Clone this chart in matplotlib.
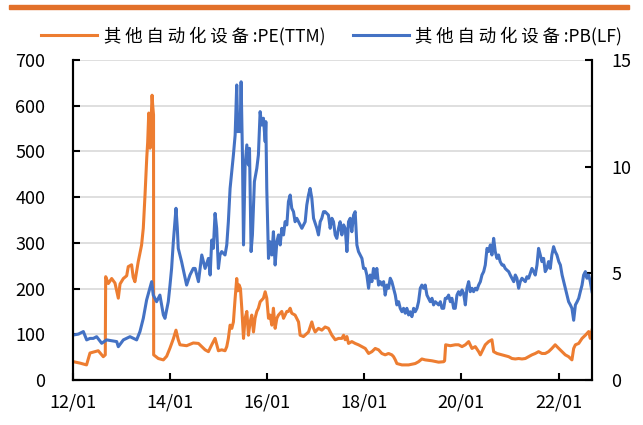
import pandas as pd
import matplotlib
matplotlib.use('Agg')
import matplotlib.pyplot as plt
import matplotlib.dates as mdates

plt.rcParams['font.family'] = ['Noto Sans CJK SC', 'DejaVu Sans']
plt.rcParams['axes.unicode_minus'] = False

# 数据
pe_label = '其他自动化设备:PE(TTM)'
pb_label = '其他自动化设备:PB(LF)'

pe_dates = [
    '2012-01-04', '2012-02-22', '2012-04-12', '2012-05-08', '2012-06-14', '2012-07-09', '2012-08-16',
    '2012-08-31', '2012-09-03', '2012-09-23', '2012-10-18', '2012-11-12', '2012-12-07', '2012-12-20',
    '2013-01-14', '2013-02-08', '2013-02-20', '2013-03-17', '2013-03-29', '2013-04-11', '2013-05-06',
    '2013-05-31', '2013-06-13', '2013-06-26', '2013-07-09', '2013-07-16', '2013-07-24', '2013-08-03',
    '2013-08-10', '2013-08-18', '2013-08-23', '2013-08-29', '2013-08-30', '2013-10-04', '2013-11-11',
    '2013-12-06', '2013-12-31', '2014-01-25', '2014-02-14', '2014-03-03', '2014-03-16', '2014-05-05',
    '2014-06-24', '2014-08-02', '2014-08-27', '2014-09-21', '2014-10-16', '2014-11-10', '2014-12-05',
    '2014-12-30', '2015-01-24', '2015-02-18', '2015-03-03', '2015-03-15', '2015-03-28', '2015-04-10',
    '2015-04-22', '2015-05-05', '2015-05-17', '2015-05-25', '2015-06-04', '2015-06-14', '2015-06-24',
    '2015-07-07', '2015-07-19', '2015-08-01', '2015-08-13', '2015-08-26', '2015-09-07', '2015-09-20',
    '2015-10-02', '2015-10-15', '2015-10-27', '2015-11-09', '2015-12-04', '2015-12-17', '2015-12-29',
    '2016-01-11', '2016-01-23', '2016-02-05', '2016-02-17', '2016-03-01', '2016-03-14', '2016-03-26',
    '2016-04-20', '2016-05-03', '2016-05-15', '2016-05-28', '2016-06-09', '2016-06-22', '2016-07-04',
    '2016-07-29', '2016-08-24', '2016-09-05', '2016-09-30', '2016-11-07', '2016-12-02', '2016-12-15',
    '2016-12-27', '2017-01-21', '2017-02-15', '2017-03-12', '2017-04-06', '2017-05-02', '2017-05-27',
    '2017-06-21', '2017-07-16', '2017-07-29', '2017-08-10', '2017-08-23', '2017-09-04', '2017-09-29',
    '2017-10-24', '2017-11-18', '2017-12-14', '2018-01-08', '2018-02-02', '2018-02-27', '2018-03-24',
    '2018-04-18', '2018-05-13', '2018-06-07', '2018-07-02', '2018-07-27', '2018-08-09', '2018-08-22',
    '2018-09-03', '2018-10-11', '2018-11-30', '2019-01-19', '2019-02-13', '2019-03-10', '2019-04-04',
    '2019-05-25', '2019-07-14', '2019-08-21', '2019-08-28', '2019-09-05', '2019-10-10', '2019-11-16',
    '2019-12-11', '2020-01-06', '2020-01-31', '2020-02-25', '2020-03-21', '2020-04-15', '2020-05-10',
    '2020-05-23', '2020-06-04', '2020-06-29', '2020-07-24', '2020-08-18', '2020-08-31', '2020-09-25',
    '2020-11-02', '2020-12-22', '2021-01-16', '2021-02-10', '2021-03-07', '2021-04-01', '2021-04-26',
    '2021-05-21', '2021-06-15', '2021-07-10', '2021-08-04', '2021-08-29', '2021-09-23', '2021-10-18',
    '2021-11-12', '2021-12-07', '2022-01-03', '2022-01-28', '2022-02-21', '2022-03-18', '2022-04-12',
    '2022-04-25', '2022-05-08', '2022-06-02', '2022-06-27', '2022-07-22', '2022-08-16', '2022-08-28',
    '2022-09-10']
pe_values = [
    40, 37, 33, 59, 62, 64, 51,
    55, 226, 211, 222, 212, 179, 210,
    222, 228, 248, 252, 225, 215, 259,
    295, 332, 405, 486, 520, 584, 507,
    560, 623, 600, 580, 55, 47, 44,
    52, 70, 90, 109, 88, 77, 75,
    81, 80, 73, 66, 62, 77, 91,
    64, 66, 64, 73, 91, 120, 113,
    127, 179, 222, 195, 208, 200, 157,
    91, 135, 150, 98, 127, 142, 105,
    135, 150, 157, 171, 179, 193, 179,
    135, 142, 120, 157, 113, 135, 142,
    150, 135, 142, 150, 150, 157, 146,
    142, 127, 98, 95, 105, 127, 113,
    105, 113, 109, 116, 113, 98, 88,
    91, 91, 98, 88, 95, 80, 84,
    80, 77, 73, 69, 58, 62, 69,
    66, 58, 55, 58, 55, 51, 44,
    36, 33, 33, 36, 40, 46, 44,
    42, 39, 40, 42, 77, 75, 77,
    77, 73, 77, 84, 69, 73, 62,
    55, 62, 77, 84, 88, 62, 58,
    55, 51, 47, 46, 47, 46, 47,
    51, 55, 58, 62, 58, 58, 62,
    69, 77, 69, 62, 55, 51, 44,
    69, 77, 80, 91, 98, 106, 91,
    109]

pb_dates = [
    '2012-01-04', '2012-02-10', '2012-03-19', '2012-04-13', '2012-05-08', '2012-06-02', '2012-06-27',
    '2012-08-04', '2012-09-10', '2012-10-18', '2012-11-25', '2012-12-07', '2013-01-14', '2013-03-05',
    '2013-04-24', '2013-05-19', '2013-06-13', '2013-07-08', '2013-08-02', '2013-08-15', '2013-08-27',
    '2013-09-21', '2013-10-16', '2013-11-11', '2013-11-23', '2013-12-18', '2013-12-31', '2014-01-12',
    '2014-01-25', '2014-02-14', '2014-02-24', '2014-03-03', '2014-03-28', '2014-05-05', '2014-05-30',
    '2014-06-24', '2014-07-08', '2014-08-02', '2014-08-27', '2014-09-21', '2014-10-16', '2014-10-29',
    '2014-11-10', '2014-11-22', '2014-12-05', '2014-12-17', '2014-12-30', '2015-01-11', '2015-01-24',
    '2015-02-18', '2015-03-03', '2015-03-15', '2015-03-28', '2015-04-10', '2015-04-22', '2015-05-05',
    '2015-05-17', '2015-05-25', '2015-06-04', '2015-06-11', '2015-06-19', '2015-06-29', '2015-07-07',
    '2015-07-19', '2015-08-01', '2015-08-13', '2015-08-21', '2015-09-02', '2015-09-12', '2015-09-27',
    '2015-10-15', '2015-10-27', '2015-11-09', '2015-11-21', '2015-12-04', '2015-12-17', '2015-12-22',
    '2015-12-29', '2016-01-11', '2016-01-23', '2016-02-05', '2016-02-17', '2016-03-01', '2016-03-14',
    '2016-03-26', '2016-04-08', '2016-04-20', '2016-05-03', '2016-05-15', '2016-05-28', '2016-06-09',
    '2016-06-22', '2016-07-04', '2016-07-17', '2016-07-29', '2016-08-11', '2016-09-05', '2016-09-18',
    '2016-10-13', '2016-10-25', '2016-11-07', '2016-11-19', '2016-12-02', '2016-12-15', '2017-01-09',
    '2017-01-21', '2017-02-03', '2017-02-15', '2017-02-28', '2017-03-12', '2017-04-06', '2017-04-19',
    '2017-05-02', '2017-05-14', '2017-05-27', '2017-06-08', '2017-06-21', '2017-07-03', '2017-07-16',
    '2017-07-29', '2017-08-10', '2017-08-23', '2017-09-04', '2017-09-17', '2017-09-29', '2017-10-12',
    '2017-10-24', '2017-11-06', '2017-11-18', '2017-12-01', '2017-12-14', '2017-12-26', '2018-01-08',
    '2018-01-20', '2018-02-02', '2018-02-14', '2018-02-27', '2018-03-11', '2018-03-24', '2018-04-05',
    '2018-04-18', '2018-05-01', '2018-05-13', '2018-05-26', '2018-06-07', '2018-06-20', '2018-07-02',
    '2018-07-15', '2018-07-27', '2018-08-09', '2018-08-22', '2018-09-03', '2018-09-16', '2018-09-28',
    '2018-10-11', '2018-10-23', '2018-11-05', '2018-11-17', '2018-11-30', '2018-12-12', '2018-12-25',
    '2019-01-07', '2019-01-19', '2019-02-01', '2019-02-13', '2019-02-26', '2019-03-10', '2019-03-23',
    '2019-04-04', '2019-04-17', '2019-04-29', '2019-05-12', '2019-05-25', '2019-06-06', '2019-06-19',
    '2019-07-14', '2019-07-27', '2019-08-08', '2019-08-21', '2019-09-02', '2019-09-15', '2019-09-27',
    '2019-10-10', '2019-10-22', '2019-11-04', '2019-11-16', '2019-11-29', '2019-12-11', '2019-12-24',
    '2020-01-06', '2020-01-18', '2020-01-31', '2020-02-12', '2020-02-25', '2020-03-08', '2020-03-21',
    '2020-04-02', '2020-04-15', '2020-04-27', '2020-05-10', '2020-05-23', '2020-06-04', '2020-06-17',
    '2020-06-29', '2020-07-12', '2020-07-24', '2020-08-06', '2020-08-18', '2020-08-31', '2020-09-12',
    '2020-09-25', '2020-10-07', '2020-10-19', '2020-11-02', '2020-11-14', '2020-11-26', '2020-12-09',
    '2020-12-22', '2021-01-03', '2021-01-16', '2021-01-29', '2021-02-10', '2021-02-22', '2021-03-07',
    '2021-03-19', '2021-04-01', '2021-04-26', '2021-05-08', '2021-05-21', '2021-06-15', '2021-06-28',
    '2021-07-10', '2021-07-23', '2021-08-04', '2021-08-17', '2021-08-29', '2021-09-11', '2021-09-23',
    '2021-10-06', '2021-10-18', '2021-10-31', '2021-11-12', '2021-11-25', '2021-12-07', '2021-12-20',
    '2022-01-03', '2022-01-15', '2022-01-28', '2022-02-09', '2022-02-21', '2022-03-06', '2022-03-18',
    '2022-03-31', '2022-04-12', '2022-04-25', '2022-05-08', '2022-05-21', '2022-06-02', '2022-06-14',
    '2022-06-27', '2022-07-09', '2022-07-22', '2022-08-03', '2022-08-16', '2022-08-28', '2022-09-10']
pb_values = [
    2.11, 2.15, 2.27, 1.88, 1.95, 1.95, 2.03,
    1.72, 1.88, 1.84, 1.80, 1.56, 1.88, 2.03,
    1.88, 2.27, 2.89, 3.75, 4.31, 4.61, 3.98,
    3.67, 3.98, 3.05, 2.89, 3.67, 4.45, 5.23,
    6.48, 8.05, 7.11, 6.17, 5.55, 4.45, 4.92,
    5.23, 5.23, 4.61, 5.86, 5.23, 5.70, 4.92,
    6.56, 6.17, 7.81, 7.11, 5.23, 5.86, 6.02,
    5.86, 6.33, 7.42, 8.98, 9.77, 10.55, 11.48,
    13.83, 11.64, 12.42, 11.64, 13.98, 10.55, 6.33,
    10.08, 11.02, 10.08, 10.86, 6.02, 6.80, 9.30,
    9.92, 10.55, 12.58, 11.95, 12.27, 11.17, 12.11,
    8.98, 5.70, 6.48, 5.86, 6.95, 5.39, 6.48,
    6.80, 6.33, 7.11, 6.80, 7.42, 7.27, 8.36,
    8.67, 8.05, 7.89, 7.42, 7.58, 7.27, 7.11,
    7.42, 8.20, 8.67, 8.98, 8.52, 7.58, 7.11,
    6.80, 7.42, 7.58, 7.89, 7.89, 7.73, 7.11,
    7.58, 7.42, 6.80, 6.64, 7.11, 7.42, 6.80,
    7.27, 7.11, 6.02, 7.42, 7.58, 6.95, 7.73,
    7.89, 6.33, 6.02, 5.86, 5.70, 5.23, 5.23,
    4.92, 4.30, 4.92, 4.61, 5.23, 4.77, 5.23,
    4.45, 4.61, 4.45, 4.61, 3.98, 4.45, 4.30,
    4.77, 4.61, 4.30, 3.98, 3.52, 3.67, 3.36,
    3.20, 3.36, 3.13, 3.36, 3.05, 3.20, 2.97,
    3.36, 3.20, 3.36, 3.67, 4.30, 4.45, 4.30,
    4.45, 3.98, 3.83, 3.67, 3.83, 3.52, 3.67,
    3.52, 3.67, 3.36, 3.36, 3.83, 3.83, 3.98,
    3.67, 3.83, 3.36, 3.36, 3.98, 4.14, 3.98,
    4.22, 4.06, 3.52, 4.30, 4.61, 4.14, 4.30,
    4.14, 4.30, 4.22, 4.45, 4.61, 4.92, 5.08,
    5.39, 6.17, 6.02, 6.33, 5.86, 6.64, 6.02,
    5.70, 5.86, 5.55, 5.39, 5.39, 5.23, 5.15,
    5.08, 4.92, 4.77, 4.61, 4.92, 4.77, 4.30,
    4.61, 4.77, 4.61, 4.84, 4.77, 5.23, 5.08,
    4.92, 5.39, 6.17, 5.86, 5.55, 5.70, 5.08,
    5.23, 5.55, 5.23, 5.86, 6.25, 6.02, 5.86,
    5.55, 5.39, 4.92, 4.61, 4.30, 3.98, 3.67,
    3.52, 3.36, 2.80, 3.52, 3.67, 3.83, 4.14,
    4.45, 4.92, 5.08, 4.77, 4.92, 4.61, 4.14]

pe_x = pd.to_datetime(pe_dates)
pb_x = pd.to_datetime(pb_dates)


def spaced(label):
    # 中文字之间留点空隙, 英文部分不动
    head, tail = label.split(':')
    return ' '.join(head) + ' :' + tail


fig = plt.figure(figsize=(6.43, 4.25), dpi=100)
ax = fig.add_axes([0.1135, 0.1059, 0.8072, 0.7529])
ax2 = ax.twinx()

ax.plot(pe_x, pe_values, color='#ED7D31', lw=2.2, label=pe_label)
ax2.plot(pb_x, pb_values, color='#4472C4', lw=2.2, label=pb_label)

ax.set_ylim(0, 700)
ax.set_yticks(range(0, 701, 100))
ax2.set_ylim(0, 15)
ax2.set_yticks([0, 5, 10, 15])
ax.set_xlim(pd.Timestamp('2012-01-01'), pd.Timestamp('2022-09-10'))
ax.xaxis.set_major_locator(mdates.YearLocator(2))
ax.xaxis.set_major_formatter(mdates.DateFormatter('%y/%m'))

ax.grid(axis='y', color='#D9D9D9', lw=1.2)
ax.set_axisbelow(True)
for a in (ax, ax2):
    a.spines['top'].set_visible(False)
    for s in ('left', 'right', 'bottom'):
        a.spines[s].set_linewidth(1.5)
        a.spines[s].set_color('black')
ax.tick_params(axis='y', direction='in', length=5, width=1.5, labelsize=13, pad=20)
ax.tick_params(axis='x', direction='in', length=5, width=1.5, labelsize=13, pad=10)
ax2.tick_params(axis='y', direction='in', length=5, width=1.5, labelsize=13, pad=14)

# 图例
fig.legend(handles=ax.get_lines() + ax2.get_lines(),
           labels=[spaced(pe_label), spaced(pb_label)],
           loc='center', bbox_to_anchor=(0.516, 0.915), ncol=2, frameon=False,
           fontsize=12.5, handlelength=3.2, handletextpad=0.4, columnspacing=1.6)

# 顶部橙色条
fig.patches.append(plt.Rectangle((9 / 643, 1 - 9 / 425), 620 / 643, 4 / 425,
                                 transform=fig.transFigure, color='#E2702A'))

fig.savefig('out.png', dpi=100)
